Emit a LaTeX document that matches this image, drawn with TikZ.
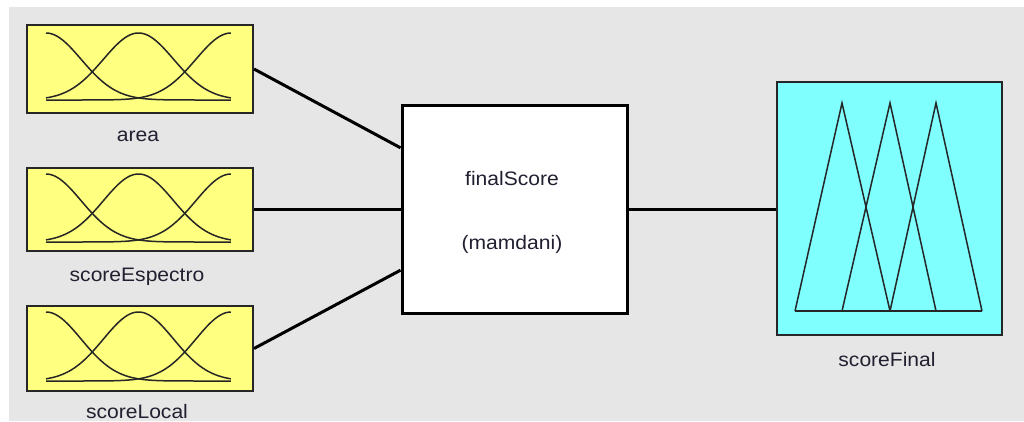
\documentclass[tikz,border=0pt]{standalone}
\usepackage{fontspec}
\setmainfont{Liberation Sans}[FakeStretch=1.08]
\usetikzlibrary{calc}
\definecolor{bg}{HTML}{E6E6E6}
\definecolor{inyellow}{HTML}{FFFF80}
\definecolor{outcyan}{HTML}{80FFFF}
\definecolor{txt}{HTML}{202030}
\newcommand\mfgauss[4]{%
  \foreach \c in {0,0.5,1}{%
    \draw[mfline] plot[domain=0:1,samples=80,smooth]
      ({#1+(#2-#1)*\x},{#4-(#4-#3)*exp(-(\x-\c)*(\x-\c)/0.0722)});
  }}
\begin{document}
\begin{tikzpicture}[x=1pt,y=-1pt,
  inbox/.style={draw=black!85,line width=2pt,fill=inyellow,rectangle,inner sep=0pt,minimum width=226pt},
  outbox/.style={draw=black!85,line width=2pt,fill=outcyan,rectangle,inner sep=0pt},
  fisbox/.style={draw=black,line width=3pt,fill=white,rectangle,inner sep=0pt},
  lbl/.style={text=txt,inner sep=0pt,anchor=base,font=\fontsize{19.5}{24}\selectfont},
  mfline/.style={draw=black!85,line width=1.5pt},
  conn/.style={draw=black,line width=3pt}]
\useasboundingbox (0,0) rectangle (1024,421);
\fill[bg] (9,7) rectangle (1024,421);
% input boxes
\node[inbox,minimum height=88pt] (area) at (140,69) {};
\node[inbox,minimum height=83pt] (espectro) at (140,209.5) {};
\node[inbox,minimum height=85pt] (local) at (140,348.5) {};
\mfgauss{46}{231}{33}{100}
\mfgauss{46}{231}{174}{242}
\mfgauss{46}{231}{312}{381}
\node[lbl] (arealbl) at (138,141) {area};
\node[lbl] (espectrolbl) at (137,281) {scoreEspectro};
\node[lbl] (locallbl) at (137,418) {scoreLocal};
% FIS box
\node[fisbox,minimum width=225pt,minimum height=208pt] (fis) at (514.5,209) {};
\node[lbl] (fisname) at (512,185) {finalScore};
\node[lbl] (fistype) at (512,249) {(mamdani)};
% output box
\node[outbox,minimum width=225pt,minimum height=253pt] (final) at (889.5,208.5) {};
\draw[mfline] (795,311) -- (842,103) -- (890,311);
\draw[mfline] (842,311) -- (890,103) -- (936,311);
\draw[mfline] (890,311) -- (936,103) -- (982,311);
\draw[mfline] (795,311) -- (982,311);
\node[lbl] (finallbl) at (887,366) {scoreFinal};
% connectors
\draw[conn] (area.east) -- ($(fis.north west)!0.21!(fis.south west)$);
\draw[conn] (espectro.east) -- (espectro.east -| fis.west);
\draw[conn] (local.east) -- ($(fis.north west)!0.79!(fis.south west)$);
\draw[conn] (fis.east) -- (fis.east -| final.west);
\end{tikzpicture}
\end{document}
